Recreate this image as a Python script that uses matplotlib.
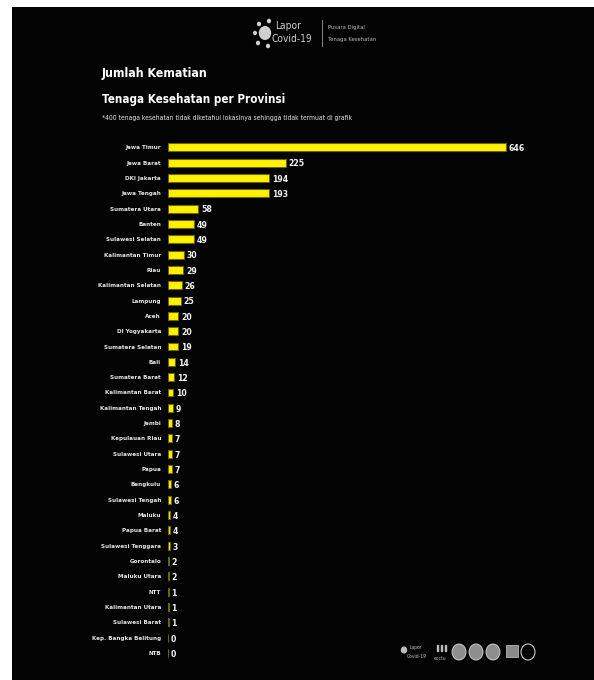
import matplotlib
matplotlib.use("Agg")
import matplotlib.pyplot as plt
from matplotlib.patches import Circle, Rectangle

provinces = ["Jawa Timur", "Jawa Barat", "DKI Jakarta", "Jawa Tengah", "Sumatera Utara",
             "Banten", "Sulawesi Selatan", "Kalimantan Timur", "Riau", "Kalimantan Selatan",
             "Lampung", "Aceh", "DI Yogyakarta", "Sumatera Selatan", "Bali", "Sumatera Barat",
             "Kalimantan Barat", "Kalimantan Tengah", "Jambi", "Kepulauan Riau", "Sulawesi Utara",
             "Papua", "Bengkulu", "Sulawesi Tengah", "Maluku", "Papua Barat", "Sulawesi Tenggara",
             "Gorontalo", "Maluku Utara", "NTT", "Kalimantan Utara", "Sulawesi Barat",
             "Kep. Bangka Belitung", "NTB"]
deaths = [646, 225, 194, 193, 58, 49, 49, 30, 29, 26, 25, 20, 20, 19, 14, 12, 10, 9, 8, 7, 7,
          7, 6, 6, 4, 4, 3, 2, 2, 1, 1, 1, 0, 0]

title1 = "Jumlah Kematian"
title2 = "Tenaga Kesehatan per Provinsi"
note = "*400 tenaga kesehatan tidak diketahui lokasinya sehingga tidak termuat di grafik"

FAM = ["DejaVu Sans"]
ST = "condensed"
W, H = 594, 680
fig = plt.figure(figsize=(W / 100, H / 100), dpi=100, facecolor="white")

# black panel
bg = fig.add_axes([12 / W, 0, 1 - 12 / W, 1 - 7 / H])
bg.set_facecolor("#030303")
bg.set_xticks([]); bg.set_yticks([])
for s in bg.spines.values():
    s.set_visible(False)

def fx(x):
    return x / W

def fy(y):
    return 1 - y / H

ax = fig.add_axes([fx(168), fy(660.7), fx(560) - fx(168), fy(139.6) - fy(660.7)])
ax.patch.set_alpha(0)
ypos = list(range(len(provinces)))
ax.barh(ypos, deaths, height=0.52, color="#fff200", edgecolor="#6e6600", linewidth=0.8)
ax.set_ylim(len(provinces) - 0.5, -0.5)
ax.set_xlim(0, 749.5)
ax.set_yticks(ypos)
ax.set_yticklabels(provinces, family=FAM, fontstretch=ST, fontsize=4.5, fontweight="bold",
                   color="#e6e6e6")
ax.tick_params(axis="y", length=0, pad=5)
ax.set_xticks([])
for s in ax.spines.values():
    s.set_visible(False)
for i, v in enumerate(deaths):
    ax.annotate(str(v), xy=(v, i), xytext=(2, -1), textcoords="offset points",
                va="center", ha="left", family=FAM, fontstretch=ST, fontsize=6.2,
                fontweight="bold", color="#f4f4f4")

# titles
fig.text(fx(102), fy(73), title1, family=FAM, fontstretch=ST, fontsize=8.9, fontweight="bold",
         color="white", va="center", ha="left")
fig.text(fx(102), fy(99), title2, family=FAM, fontstretch=ST, fontsize=8.4, fontweight="bold",
         color="white", va="center", ha="left")
fig.text(fx(102), fy(118), note, family=FAM, fontstretch=ST, fontsize=4.9, color="#e6e6e6",
         va="center", ha="left")

# top logo
fig.text(fx(275), fy(26), "Lapor", family=FAM, fontstretch=ST, fontsize=7.3, color="#cfcfcf",
         va="center", ha="left")
fig.text(fx(271), fy(39), "Covid-19", family=FAM, fontstretch=ST, fontsize=7.3, color="#cfcfcf",
         va="center", ha="left")
for (cx, cy, r) in [(265, 33, 5.5), (259, 24, 1.4), (269, 21, 1.4), (258, 43, 1.4),
                    (268, 46, 1.4), (255, 33, 1.3)]:
    fig.add_artist(Circle((fx(cx), fy(cy)), r / W, transform=fig.transFigure, color="#cfcfcf"))
fig.add_artist(plt.Line2D([fx(322), fx(322)], [fy(20), fy(46)], color="#9a9a9a", lw=0.6))
fig.text(fx(328), fy(27), "Pusara Digital", family=FAM, fontstretch=ST, fontsize=4.2,
         color="#bdbdbd", va="center", ha="left")
fig.text(fx(328), fy(40), "Tenaga Kesehatan", family=FAM, fontstretch=ST, fontsize=4.2,
         color="#bdbdbd", va="center", ha="left")

# bottom logos
fig.text(fx(409), fy(648), "Lapor", family=FAM, fontstretch=ST, fontsize=3.6, color="#bdbdbd",
         va="center", ha="left")
fig.text(fx(407), fy(656), "Covid-19", family=FAM, fontstretch=ST, fontsize=3.6, color="#bdbdbd",
         va="center", ha="left")
fig.add_artist(Circle((fx(404), fy(650)), 2.5 / W, transform=fig.transFigure, color="#bdbdbd"))
fig.text(fx(434), fy(658), "eoctu", family=FAM, fontstretch=ST, fontsize=3.6, color="#bdbdbd",
         va="center", ha="left")
for bx in [437, 441, 445]:
    fig.add_artist(Rectangle((fx(bx), fy(651)), 1.2 / W, 6 / H, transform=fig.transFigure,
                             color="#bdbdbd"))
for cx in [459, 476, 493]:
    fig.add_artist(Circle((fx(cx), fy(652)), 7 / W, transform=fig.transFigure,
                          facecolor="#8e8e8e", edgecolor="#dddddd", lw=0.6))
fig.add_artist(Rectangle((fx(506), fy(657)), 12 / W, 12 / H, transform=fig.transFigure,
                         facecolor="#8a8a8a", edgecolor="#cccccc", lw=0.5))
fig.add_artist(Circle((fx(528), fy(652)), 7 / W, transform=fig.transFigure,
                      facecolor="none", edgecolor="#cccccc", lw=0.8))

fig.savefig("out.png", dpi=100, facecolor=fig.get_facecolor())
